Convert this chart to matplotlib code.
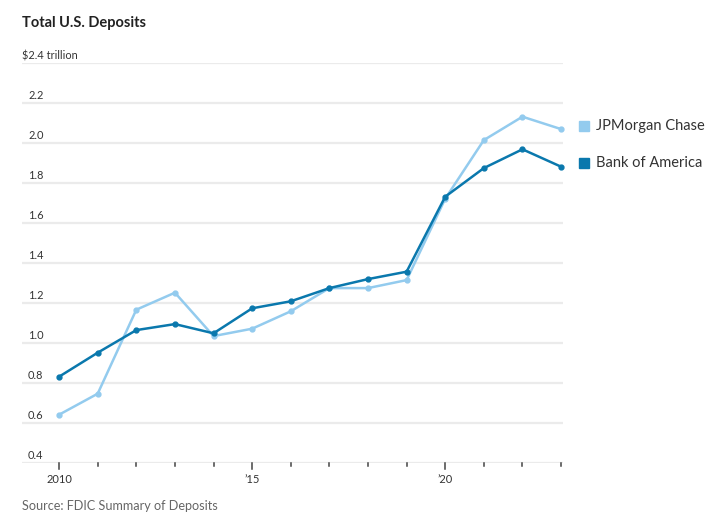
import numpy as np
import matplotlib
matplotlib.use('Agg')
import matplotlib.pyplot as plt
import matplotlib.transforms as mtransforms

plt.rcParams['font.family'] = ['Lato', 'DejaVu Sans']

years = list(range(2010, 2024))
jpm = [0.64, 0.745, 1.165, 1.25, 1.033, 1.07, 1.157, 1.273, 1.273, 1.313, 1.72, 2.013, 2.13, 2.068]
boa = [0.83, 0.95, 1.063, 1.093, 1.047, 1.172, 1.207, 1.273, 1.318, 1.355, 1.73, 1.873, 1.967, 1.88]
y_ticks = [0.4, 0.6, 0.8, 1.0, 1.2, 1.4, 1.6, 1.8, 2.0, 2.2, 2.4]
x_labels = {2010: '2010', 2015: '\u201915', 2020: '\u201920'}

light = '#93cbee'
dark = '#0a78ad'
txt = '#333333'

fig = plt.figure(figsize=(7.2, 5.18), dpi=100)
ax = fig.add_axes([22 / 720, 1 - 462.7 / 518, 541 / 720, 400 / 518])
ax.set_xlim(2009.04, 2023.05)
ax.set_ylim(0.4, 2.4)

for s in ax.spines.values():
    s.set_visible(False)
ax.set_yticks([])
ax.set_xticks([])

# gridlines with labels sitting just above them
lab_tr = ax.get_yaxis_transform() + mtransforms.ScaledTranslation(0, 1.5 / 100, fig.dpi_scale_trans)
for v in y_ticks:
    ax.axhline(v, color='#ebebeb', lw=1.6, zorder=0)
    lab = '$2.4 trillion' if v == 2.4 else f'{v:.1f}'
    xoff = 0.0 if v == 2.4 else 6 / 541
    ax.text(xoff, v, lab, transform=lab_tr, ha='left', va='bottom', fontsize=7.9, color=txt)

# year ticks
for yr in years:
    ln = 6 if yr in x_labels else 3
    ax.plot([yr, yr], [0, -ln / 400], transform=ax.get_xaxis_transform(), color='#444444',
            lw=1.1, clip_on=False)
    if yr in x_labels:
        ax.text(yr, -17 / 400, x_labels[yr], transform=ax.get_xaxis_transform(), ha='center',
                va='center', fontsize=8, color=txt)

ax.plot(years, jpm, color=light, lw=1.8, marker='o', ms=3.5, clip_on=False, zorder=3)
ax.plot(years, boa, color=dark, lw=1.8, marker='o', ms=3.5, clip_on=False, zorder=4)

# legend
for yy, name, c in [(126, 'JPMorgan Chase', light), (163, 'Bank of America', dark)]:
    fig.patches.append(plt.Rectangle((579 / 720, 1 - (yy + 5) / 518), 10 / 720, 10 / 518,
                                     transform=fig.transFigure, color=c))
    fig.text(596 / 720, 1 - yy / 518, name, ha='left', va='center', fontsize=10.5, color=txt)

fig.text(22 / 720, 1 - 23 / 518, 'Total U.S. Deposits', ha='left', va='center',
         fontsize=10.5, fontweight='bold', color='#222222')
fig.text(22 / 720, 1 - 506 / 518, 'Source: FDIC Summary of Deposits', ha='left', va='center',
         fontsize=9.1, color='#666666')

fig.savefig('out.png', dpi=100)
